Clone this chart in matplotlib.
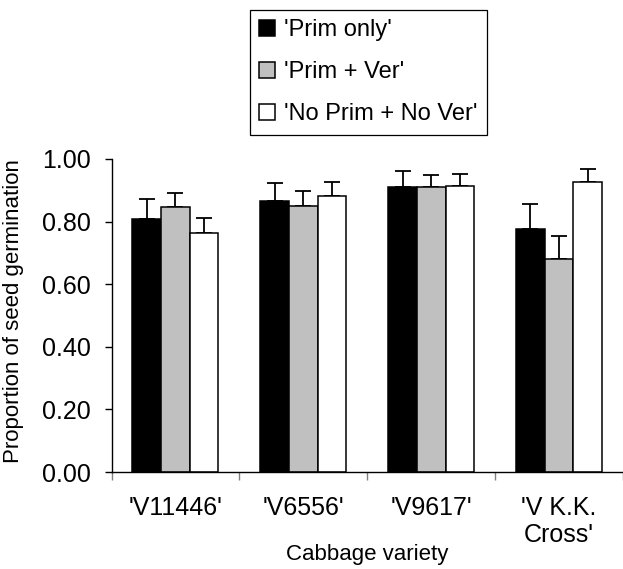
import matplotlib
matplotlib.use("Agg")
import matplotlib.pyplot as plt
import numpy as np

plt.rcParams['font.family'] = ['Liberation Sans', 'DejaVu Sans']

categories = ["'V11446'", "'V6556'", "'V9617'", "'V K.K.\nCross'"]
series_names = ["'Prim only'", "'Prim + Ver'", "'No Prim + No Ver'"]
prim_only = [0.808, 0.866, 0.911, 0.776]
prim_ver = [0.847, 0.851, 0.909, 0.679]
no_prim_no_ver = [0.762, 0.883, 0.915, 0.928]
prim_only_err = [0.063, 0.056, 0.051, 0.081]
prim_ver_err = [0.044, 0.047, 0.039, 0.076]
no_prim_no_ver_err = [0.049, 0.045, 0.038, 0.041]
yticks = [0.0, 0.2, 0.4, 0.6, 0.8, 1.0]

values = [prim_only, prim_ver, no_prim_no_ver]
errors = [prim_only_err, prim_ver_err, no_prim_no_ver_err]
colors = ['#000000', '#C0C0C0', '#FFFFFF']

W, H = 623, 569
fig = plt.figure(figsize=(W / 100, H / 100), dpi=100)
ax_left = 111.5
ax_bottom = 472
ax_top = 159
group_px = 128.5
ax = fig.add_axes([ax_left / W, 1 - ax_bottom / H, (W - ax_left) / W, (ax_bottom - ax_top) / H])

n = len(categories)
centers = np.arange(n) + 0.5
w = 0.224
handles = []
for k in range(3):
    x = centers + (k - 1) * w
    b = ax.bar(x, values[k], width=w, color=colors[k], edgecolor='black', linewidth=1.1,
               label=series_names[k], zorder=2)
    handles.append(b)
    ax.errorbar(x, values[k], yerr=[np.zeros(n), errors[k]], fmt='none', ecolor='black',
                elinewidth=1.3, capsize=5.5, capthick=1.3, zorder=1)

ax.set_xlim(0, (W - ax_left) / group_px)
ax.set_ylim(0, 1.0)
ax.set_yticks(yticks)
ax.set_yticklabels([f"{v:.2f}" for v in yticks])
ax.set_xticks(centers)
ax.set_xticklabels(categories)
ax.set_xticks(np.arange(0, n + 1), minor=True)
ax.tick_params(axis='x', which='major', length=0, pad=17, labelsize=18)
ax.tick_params(axis='x', which='minor', length=5.8, width=1, color='#808080', direction='out')
ax.tick_params(axis='y', which='major', length=5, width=1, pad=10, labelsize=18, direction='out')

for s in ['top', 'right']:
    ax.spines[s].set_visible(False)
ax.spines['left'].set_linewidth(1)
ax.spines['bottom'].set_linewidth(1)

ax.set_xlabel('Cabbage variety', fontsize=16)
ax.xaxis.set_label_coords(0.5, (472 - 544) / 313)
ax.set_ylabel('Proportion of seed germination', fontsize=16)
ax.yaxis.set_label_coords((24 - 111.5) / 511.5, 0.513)

leg = fig.legend(handles=handles, labels=series_names, loc='upper left',
                 bbox_to_anchor=(250 / W, 1 - 10 / H), fontsize=17,
                 frameon=True, fancybox=False, edgecolor='black', framealpha=1,
                 handlelength=0.65, handleheight=0.65, handletextpad=0.4,
                 labelspacing=0.84, borderpad=0.4, borderaxespad=0)
leg.get_frame().set_linewidth(0.9)

fig.savefig('out.png', dpi=100)
